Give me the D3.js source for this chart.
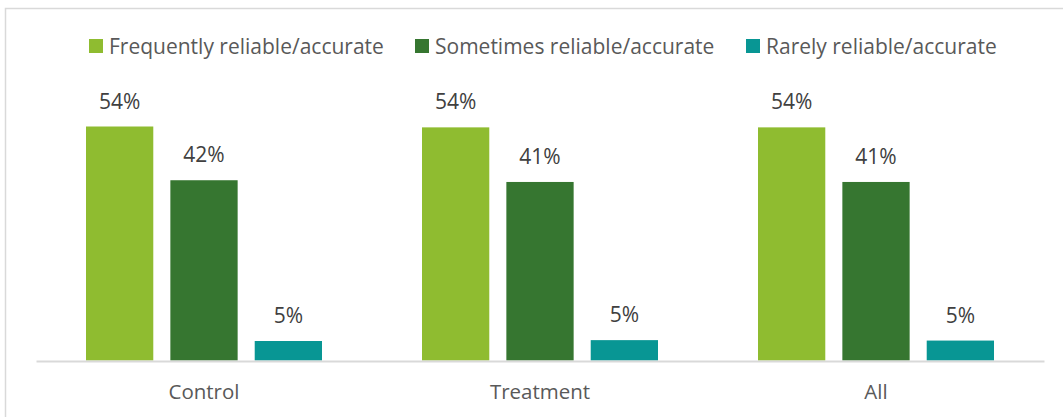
<!DOCTYPE html>
<html><head><meta charset="utf-8">
<script src="https://cdn.jsdelivr.net/npm/d3@7"></script>
<style>body{margin:0;background:#fff}svg{display:block}text{font-family:"Open Sans",sans-serif}</style>
</head><body><svg id="c" width="1063" height="417"></svg>
<script>
const categories = ["Control", "Treatment", "All"];
const seriesNames = ["Frequently reliable/accurate", "Sometimes reliable/accurate", "Rarely reliable/accurate"];
const frequently = [54.0, 53.8, 53.8];
const sometimes = [41.6, 41.2, 41.2];
const rarely = [4.5, 4.7, 4.6];
const colors = ["#8FBC30", "#367630", "#089694"];
const series = [frequently, sometimes, rarely];

const svg = d3.select("#c");
svg.append("path").attr("d","M5.5,417 L5.5,8.5 L1063,8.5").attr("fill","none").attr("stroke","#d9d9d9").attr("stroke-width",1.5);

const x0 = d3.scaleBand().domain(categories).range([36,1044]).paddingInner(0).paddingOuter(0);
const x1 = d3.scaleBand().domain(d3.range(3)).range([50,286]).paddingInner(0.2024).paddingOuter(0);
const y = d3.scaleLinear().domain([0,54]).range([360.5,126.5]);

const g = svg.append("g");
categories.forEach((c,ci)=>{
  series.forEach((s,si)=>{
    const xx = x0(c)+x1(si);
    g.append("rect").attr("x",xx).attr("y",y(s[ci])).attr("width",x1.bandwidth()).attr("height",y(0)-y(s[ci])).attr("fill",colors[si]);
    g.append("text").attr("x",xx+x1.bandwidth()/2).attr("y",y(s[ci])-18).attr("text-anchor","middle").attr("font-size",21).attr("fill","#404040").text(Math.round(s[ci])+"%");
  });
});
const ax = svg.append("g").attr("transform","translate(0,361)").call(d3.axisBottom(x0).tickSize(0).tickPadding(0));
ax.select(".domain").attr("stroke","#d9d9d9").attr("stroke-width",2);
ax.selectAll("text").attr("font-size",20.5).attr("dy",0).attr("y",38).attr("fill","#595959").style("font-family","'Open Sans',sans-serif");

const legX = [89, 415, 746];
seriesNames.forEach((n,i)=>{
  svg.append("rect").attr("x",legX[i]).attr("y",39).attr("width",14).attr("height",14).attr("fill",colors[i]);
  svg.append("text").attr("x",legX[i]+20).attr("y",54).attr("font-size",21).attr("fill","#595959").text(n);
});
</script></body></html>
